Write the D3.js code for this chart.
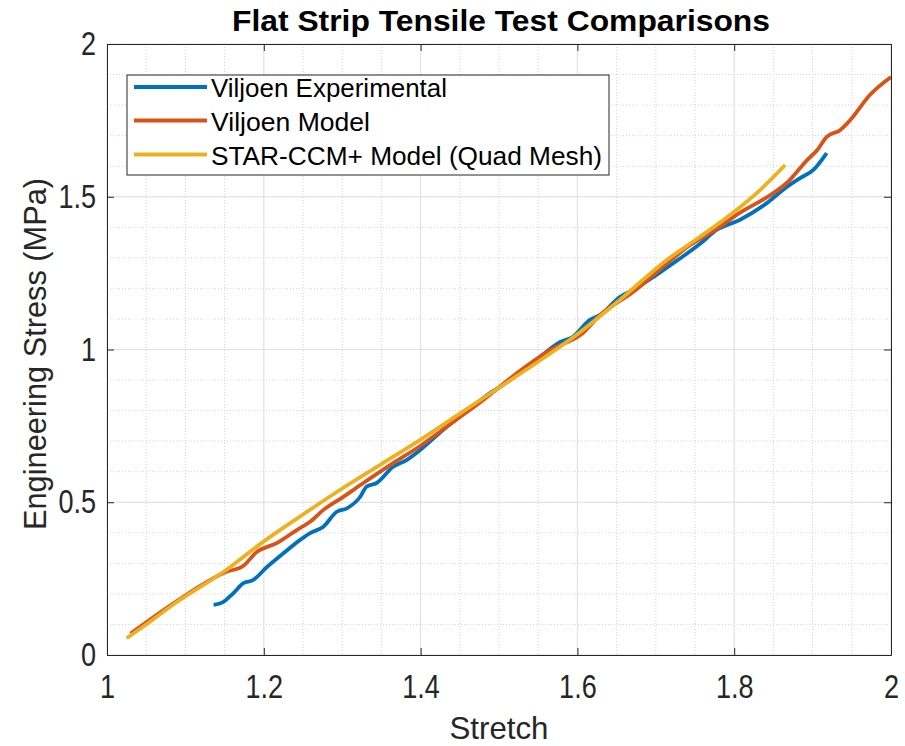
<!DOCTYPE html>
<html>
<head>
<meta charset="utf-8">
<script src="https://cdn.jsdelivr.net/npm/d3@7/dist/d3.min.js"></script>
<style>
  html, body { margin: 0; padding: 0; background: #fff; }
  svg { display: block; font-family: "Liberation Sans", Arial, Helvetica, sans-serif; }
</style>
</head>
<body>
<svg id="chart" width="905" height="746"></svg>
<script>
// Stretch vs. engineering stress (MPa)
const experimentalX = [1.136, 1.148, 1.161, 1.174, 1.186, 1.204, 1.225, 1.246, 1.259, 1.276, 1.293, 1.306, 1.323, 1.331, 1.344, 1.365, 1.382, 1.399, 1.43, 1.46, 1.489, 1.501, 1.536, 1.552, 1.578, 1.594, 1.616, 1.629, 1.654, 1.671, 1.696, 1.714, 1.756, 1.778, 1.807, 1.842, 1.867, 1.884, 1.901, 1.918];
const experimentalY = [0.164, 0.173, 0.202, 0.235, 0.245, 0.288, 0.333, 0.376, 0.399, 0.420, 0.469, 0.480, 0.518, 0.551, 0.563, 0.616, 0.638, 0.670, 0.740, 0.800, 0.858, 0.877, 0.943, 0.975, 1.025, 1.041, 1.097, 1.113, 1.172, 1.195, 1.236, 1.268, 1.345, 1.392, 1.424, 1.480, 1.532, 1.561, 1.588, 1.643];

const modelX = [1.03, 1.06, 1.09, 1.12, 1.15, 1.174, 1.19, 1.217, 1.242, 1.259, 1.276, 1.301, 1.327, 1.365, 1.4, 1.44, 1.48, 1.523, 1.565, 1.607, 1.629, 1.671, 1.705, 1.744, 1.775, 1.807, 1.842, 1.867, 1.893, 1.906, 1.918, 1.935, 1.948, 1.973, 2.0];
const modelY = [0.070, 0.125, 0.178, 0.228, 0.270, 0.292, 0.335, 0.367, 0.409, 0.436, 0.475, 0.517, 0.563, 0.628, 0.685, 0.760, 0.835, 0.923, 0.998, 1.054, 1.113, 1.188, 1.262, 1.342, 1.390, 1.447, 1.499, 1.545, 1.620, 1.653, 1.696, 1.718, 1.751, 1.833, 1.892];

const quadX = [1.025, 1.05, 1.09, 1.153, 1.2, 1.25, 1.3, 1.35, 1.4, 1.45, 1.5, 1.55, 1.6, 1.654, 1.714, 1.756, 1.798, 1.833, 1.865];
const quadY = [0.055, 0.100, 0.175, 0.280, 0.372, 0.460, 0.545, 0.625, 0.705, 0.790, 0.875, 0.960, 1.050, 1.162, 1.293, 1.368, 1.447, 1.522, 1.604];

const seriesNames = ["Viljoen Experimental", "Viljoen Model", "STAR-CCM+ Model (Quad Mesh)"];
const seriesColors = ["#0072BD", "#D95319", "#EDB120"];

const xTicks = [1, 1.2, 1.4, 1.6, 1.8, 2];
const yTicks = [0, 0.5, 1, 1.5, 2];
const xMinor = d3.range(1, 2.0001, 0.05);
const yMinor = d3.range(0, 2.0001, 0.1);

const svg = d3.select("#chart");
const plotLeft = 107, plotRight = 891, plotTop = 44, plotBottom = 655;

const x = d3.scaleLinear().domain([1, 2]).range([plotLeft, plotRight]);
const y = d3.scaleLinear().domain([0, 2]).range([plotBottom, plotTop]);

// minor grid (dotted)
const grid = svg.append("g");
grid.selectAll("line.xm").data(xMinor).join("line")
  .attr("x1", d => x(d)).attr("x2", d => x(d))
  .attr("y1", plotTop).attr("y2", plotBottom)
  .attr("stroke", "#d2d2d2").attr("stroke-width", 1).attr("stroke-dasharray", "1,2");
grid.selectAll("line.ym").data(yMinor).join("line")
  .attr("x1", plotLeft).attr("x2", plotRight)
  .attr("y1", d => y(d)).attr("y2", d => y(d))
  .attr("stroke", "#d2d2d2").attr("stroke-width", 1).attr("stroke-dasharray", "1,2");

// major grid (solid)
grid.selectAll("line.xM").data(xTicks).join("line")
  .attr("x1", d => x(d)).attr("x2", d => x(d))
  .attr("y1", plotTop).attr("y2", plotBottom)
  .attr("stroke", "#e1e1e1").attr("stroke-width", 1);
grid.selectAll("line.yM").data(yTicks).join("line")
  .attr("x1", plotLeft).attr("x2", plotRight)
  .attr("y1", d => y(d)).attr("y2", d => y(d))
  .attr("stroke", "#e1e1e1").attr("stroke-width", 1);

// data lines
const series = [
  d3.zip(experimentalX, experimentalY),
  d3.zip(modelX, modelY),
  d3.zip(quadX, quadY)
];
const line = d3.line().x(d => x(d[0])).y(d => y(d[1])).curve(d3.curveMonotoneX);
svg.append("g").selectAll("path").data(series).join("path")
  .attr("d", line)
  .attr("fill", "none")
  .attr("stroke", (d, i) => seriesColors[i])
  .attr("stroke-width", 3.8)
  .attr("stroke-linejoin", "round")
  .attr("stroke-linecap", "butt");

// axes (inside ticks, box on)
const axisColor = "#262626";
const tickLen = 7;
const labelScale = 0.82;   // narrow tick-label glyphs
const xAxisB = d3.axisBottom(x).tickValues(xTicks).tickSizeInner(-tickLen).tickSizeOuter(0).tickPadding(20).tickFormat(d3.format("~g"));
const yAxisL = d3.axisLeft(y).tickValues(yTicks).tickSizeInner(-tickLen).tickSizeOuter(0).tickPadding(11 / labelScale).tickFormat(d3.format("~g"));
const xAxisT = d3.axisTop(x).tickValues(xTicks).tickSizeInner(-tickLen).tickSizeOuter(0).tickFormat("");
const yAxisR = d3.axisRight(y).tickValues(yTicks).tickSizeInner(-tickLen).tickSizeOuter(0).tickFormat("");

function styleAxis(g) {
  g.select(".domain").attr("stroke", axisColor).attr("stroke-width", 1);
  g.selectAll(".tick line").attr("stroke", axisColor).attr("stroke-width", 1);
  g.selectAll(".tick text").attr("fill", axisColor).style("font-size", "33px")
    .style("font-family", "'Liberation Sans', Arial, sans-serif")
    .attr("transform", `scale(${labelScale},1)`);
}
svg.append("g").attr("transform", `translate(0,${plotBottom})`).call(xAxisB).call(styleAxis);
svg.append("g").attr("transform", `translate(${plotLeft},0)`).call(yAxisL).call(styleAxis);
svg.append("g").attr("transform", `translate(0,${plotTop})`).call(xAxisT).call(styleAxis);
svg.append("g").attr("transform", `translate(${plotRight},0)`).call(yAxisR).call(styleAxis);

// title and axis labels
svg.append("text")
  .attr("x", 501).attr("y", 31)
  .attr("text-anchor", "middle")
  .attr("fill", "#000")
  .attr("textLength", 538).attr("lengthAdjust", "spacingAndGlyphs")
  .style("font-size", "29px").style("font-weight", "bold")
  .text("Flat Strip Tensile Test Comparisons");

svg.append("text")
  .attr("x", 499).attr("y", 739)
  .attr("text-anchor", "middle")
  .attr("fill", axisColor)
  .attr("textLength", 99).attr("lengthAdjust", "spacingAndGlyphs")
  .style("font-size", "32px")
  .text("Stretch");

svg.append("text")
  .attr("transform", `translate(46,354) rotate(-90)`)
  .attr("text-anchor", "middle")
  .attr("fill", axisColor)
  .attr("textLength", 352).attr("lengthAdjust", "spacingAndGlyphs")
  .style("font-size", "31px")
  .text("Engineering Stress (MPa)");

// legend
const legend = svg.append("g");
legend.append("rect")
  .attr("x", 127).attr("y", 75).attr("width", 482).attr("height", 100)
  .attr("fill", "#fff").attr("stroke", axisColor).attr("stroke-width", 1);
const rowY = [87, 120.5, 154.5];
const legendTextWidth = [236, 159, 391];
seriesNames.forEach((name, i) => {
  legend.append("line")
    .attr("x1", 134).attr("x2", 207)
    .attr("y1", rowY[i]).attr("y2", rowY[i])
    .attr("stroke", seriesColors[i]).attr("stroke-width", 3.8);
  legend.append("text")
    .attr("x", 211).attr("y", rowY[i] + 10)
    .attr("fill", "#000")
    .attr("textLength", legendTextWidth[i]).attr("lengthAdjust", "spacingAndGlyphs")
    .style("font-size", "26.5px")
    .text(name);
});
</script>
</body>
</html>
